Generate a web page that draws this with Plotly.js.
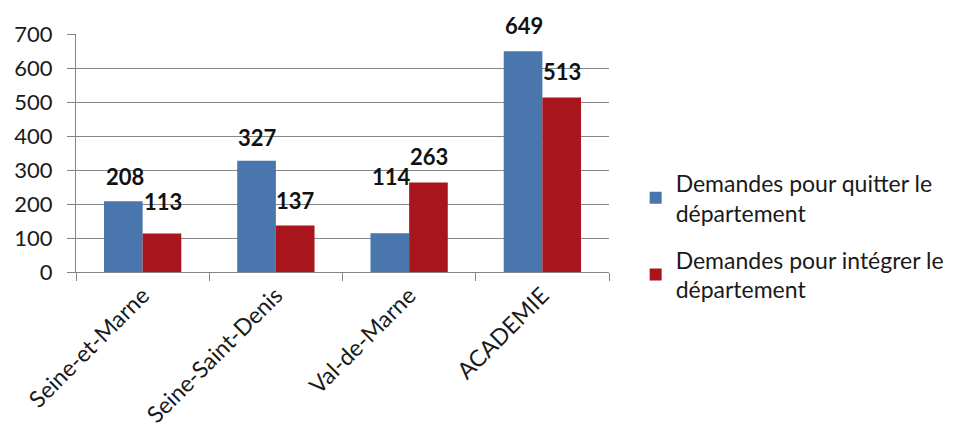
<!DOCTYPE html>
<html>
<head>
<meta charset="utf-8">
<script src="https://cdn.plot.ly/plotly-3.0.1.min.js"></script>
<style>html,body{margin:0;padding:0;background:#fff;}#chart{width:965px;height:436px;}</style>
</head>
<body>
<div id="chart"></div>
<script>
const categories = ["Seine-et-Marne", "Seine-Saint-Denis", "Val-de-Marne", "ACADEMIE"];
const quitter = [208, 327, 114, 649];
const integrer = [113, 137, 263, 513];
const seriesNames = ["Demandes pour quitter le<br>département", "Demandes pour intégrer le<br>département"];
const colors = ["#4a76ae", "#a8151c"];
// label lift above bar top (px), style only
const liftQuitter = [25, 23, 57, 26];
const liftIntegrer = [32, 25, 26, 26];

const FONT = "Lato, 'Open Sans', sans-serif";

const traces = [
  {type: "bar", x: categories, y: quitter, name: seriesNames[0], legendgroup: "q", marker: {color: colors[0]}},
  {type: "bar", x: categories, y: integrer, name: seriesNames[1], legendgroup: "i", marker: {color: colors[1]}}
];

const annotations = [];
categories.forEach((c, i) => {
  annotations.push({x: c, y: quitter[i], xref: "x", yref: "y", text: "<b>" + quitter[i] + "</b>",
    showarrow: false, xshift: -18, yshift: liftQuitter[i], yanchor: "middle",
    font: {family: FONT, size: 22, color: "#111"}});
  annotations.push({x: c, y: integrer[i], xref: "x", yref: "y", text: "<b>" + integrer[i] + "</b>",
    showarrow: false, xshift: 20, yshift: liftIntegrer[i], yanchor: "middle",
    font: {family: FONT, size: 22, color: "#111"}});
});

const layout = {
  width: 965, height: 436,
  margin: {l: 76, r: 356, t: 34, b: 164},
  paper_bgcolor: "#fff", plot_bgcolor: "#fff",
  barmode: "group", bargap: 0.42, bargroupgap: 0,
  font: {family: FONT, size: 22, color: "#1a1a1a"},
  xaxis: {
    type: "category", tickangle: -45, showline: true, linecolor: "#868686", linewidth: 1,
    ticks: "outside", tickson: "boundaries", ticklen: 8, tickcolor: "#868686",
    tickfont: {family: FONT, size: 23, color: "#1a1a1a"}, showgrid: false
  },
  yaxis: {
    range: [0, 700], dtick: 100, showline: true, linecolor: "#868686", linewidth: 1,
    ticks: "outside", ticklen: 8, tickcolor: "#868686", showgrid: true, gridcolor: "#868686", gridwidth: 1,
    zeroline: false, ticklabelstandoff: 10, tickfont: {family: FONT, size: 22, color: "#1a1a1a"}
  },
  legend: {x: 1.05, xanchor: "left", y: 0.15, yanchor: "middle", font: {family: FONT, size: 23, color: "#1a1a1a"},
    tracegroupgap: 14, itemwidth: 30},
  annotations: annotations,
  showlegend: true
};

Plotly.newPlot("chart", traces, layout, {displayModeBar: false, staticPlot: true});
</script>
</body>
</html>
